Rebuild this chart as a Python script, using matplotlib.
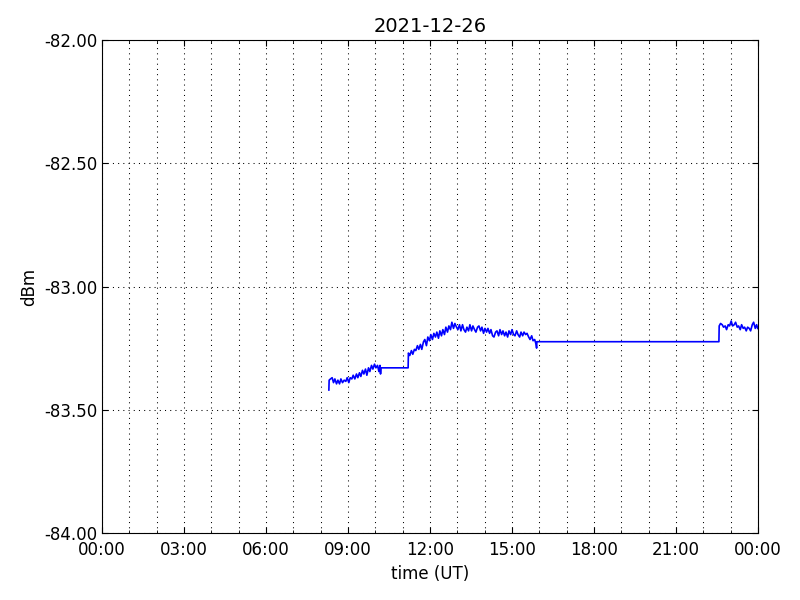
import datetime as dt
import matplotlib
matplotlib.use('Agg')
import matplotlib.pyplot as plt
import matplotlib.dates as mdates
from matplotlib.ticker import FormatStrFormatter

# Daten (Stunden UT, dBm)
day = '2021-12-26'
hours = [
    8.30, 8.31, 8.36, 8.42, 8.47, 8.52, 8.58, 8.63, 8.69, 8.74, 8.80, 8.86, 8.92, 8.97,
    9.03, 9.08, 9.14, 9.19, 9.25, 9.31, 9.36, 9.42, 9.47, 9.53, 9.58, 9.64, 9.69, 9.75,
    9.80, 9.86, 9.91, 9.97, 10.02, 10.08, 10.13, 10.17, 10.19, 10.21,
    11.20, 11.21, 11.26, 11.32, 11.37, 11.43, 11.48, 11.54, 11.59, 11.65, 11.70, 11.76,
    11.81, 11.87, 11.92, 11.98, 12.03, 12.09, 12.14, 12.20, 12.25, 12.31, 12.36, 12.42,
    12.47, 12.53, 12.58, 12.64, 12.69, 12.75, 12.80, 12.86, 12.91, 12.97, 13.02, 13.08,
    13.13, 13.19, 13.24, 13.30, 13.35, 13.41, 13.46, 13.52, 13.57, 13.63, 13.68, 13.74,
    13.79, 13.85, 13.90, 13.96, 14.01, 14.07, 14.12, 14.18, 14.23, 14.29, 14.34, 14.40,
    14.45, 14.51, 14.56, 14.62, 14.67, 14.73, 14.78, 14.84, 14.89, 14.95, 15.00, 15.06,
    15.11, 15.17, 15.22, 15.28, 15.33, 15.39, 15.44, 15.50, 15.55, 15.61, 15.66, 15.72,
    15.77, 15.83, 15.88, 15.90, 15.91,
    22.57, 22.58, 22.63, 22.69, 22.74, 22.80, 22.85, 22.91, 22.96, 23.02, 23.07, 23.13,
    23.18, 23.24, 23.29, 23.35, 23.40, 23.46, 23.51, 23.57, 23.62, 23.68, 23.73, 23.79,
    23.84, 23.90, 23.95, 23.99,
]
dbm = [
    -83.42, -83.38, -83.375, -83.37, -83.39, -83.375, -83.395, -83.38, -83.395, -83.375, -83.39, -83.38, -83.385, -83.37,
    -83.39, -83.37, -83.375, -83.36, -83.375, -83.355, -83.37, -83.35, -83.365, -83.34, -83.355, -83.335, -83.36, -83.33,
    -83.345, -83.32, -83.335, -83.315, -83.33, -83.32, -83.345, -83.32, -83.355, -83.33,
    -83.33, -83.27, -83.28, -83.26, -83.275, -83.255, -83.26, -83.24, -83.255, -83.235, -83.255, -83.225,
    -83.215, -83.24, -83.205, -83.22, -83.195, -83.215, -83.19, -83.205, -83.185, -83.21, -83.18, -83.20,
    -83.175, -83.195, -83.165, -83.185, -83.16, -83.175, -83.145, -83.17, -83.15, -83.165, -83.175, -83.155,
    -83.18, -83.155, -83.175, -83.185, -83.165, -83.18, -83.155, -83.18, -83.16, -83.175, -83.185, -83.165,
    -83.16, -83.18, -83.165, -83.19, -83.17, -83.185, -83.17, -83.19, -83.175, -83.20, -83.205, -83.185,
    -83.18, -83.20, -83.175, -83.195, -83.18, -83.20, -83.185, -83.205, -83.18, -83.195, -83.175, -83.195,
    -83.20, -83.18, -83.195, -83.205, -83.185, -83.20, -83.185, -83.195, -83.19, -83.205, -83.215, -83.20,
    -83.22, -83.215, -83.235, -83.25, -83.224,
    -83.224, -83.16, -83.15, -83.155, -83.165, -83.16, -83.175, -83.155, -83.16, -83.14, -83.16, -83.155,
    -83.145, -83.165, -83.16, -83.175, -83.155, -83.17, -83.165, -83.18, -83.165, -83.17, -83.18, -83.155,
    -83.145, -83.17, -83.155, -83.17,
]

start = dt.datetime.strptime(day, '%Y-%m-%d')
times = [start + dt.timedelta(hours=h) for h in hours]

fig = plt.figure(figsize=(8, 6), dpi=100, facecolor='white')
ax = fig.add_axes([0.1275, 0.1117, 0.82, 0.8216])
ax.plot(times, dbm, color='blue', linewidth=1.2)

ax.set_xlim(start, start + dt.timedelta(days=1))
ax.set_ylim(-84.0, -82.0)
ax.xaxis.set_major_locator(mdates.HourLocator(byhour=range(0, 24, 3)))
ax.xaxis.set_minor_locator(mdates.HourLocator())
ax.xaxis.set_major_formatter(mdates.DateFormatter('%H:%M'))
ax.yaxis.set_major_locator(matplotlib.ticker.MultipleLocator(0.5))
ax.yaxis.set_major_formatter(FormatStrFormatter('%.2f'))

ax.tick_params(which='both', direction='in', top=True, right=True, labelsize=12)
ax.tick_params(which='major', length=4)
ax.tick_params(which='minor', length=2)
ax.tick_params(axis='x', pad=6)
grid_style = dict(linestyle=(0, (1, 4)), color='black', linewidth=0.75)
ax.xaxis.grid(True, which='both', **grid_style)
ax.yaxis.grid(True, which='major', **grid_style)

ax.set_title(day, fontsize=14)
ax.set_xlabel('time (UT)', fontsize=12)
ax.set_ylabel('dBm', fontsize=12)

fig.savefig('out.png', dpi=100, facecolor='white')
